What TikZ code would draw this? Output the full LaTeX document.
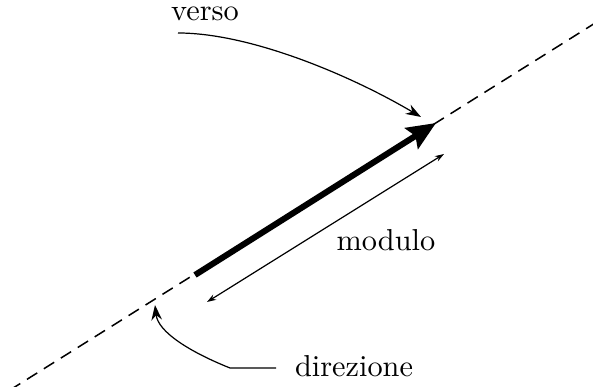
\documentclass[tikz,border=0pt]{standalone}
\usetikzlibrary{arrows.meta}
\begin{document}
\begin{tikzpicture}[x=0.33pt,y=-0.33pt,
  dir/.style={line width=0.5pt,dash pattern=on 4pt off 2.6pt},
  vec/.style={line width=2pt,-{Stealth[length=9.5pt,width=8pt,inset=1.5pt]}},
  thin/.style={line width=0.4pt},
  lbl/.style={inner sep=0pt}]
\useasboundingbox (0,0) rectangle (593,387);
\coordinate (d1) at (10,390);
\coordinate (d2) at (600,20);
\draw[dir] (d1) -- (d2);
\coordinate (vs) at (195,275);
\coordinate (vt) at (436,123);
\draw[vec] (vs) -- (vt);
\coordinate (m1) at (207,302);
\coordinate (m2) at (444,154);
\draw[thin,{Stealth[length=3pt,width=2pt]}-{Stealth[length=3pt,width=2pt]}] (m1) -- (m2);
\node[lbl] (mod) at (386,240) {modulo};
\node[lbl] (ver) at (205,14) {verso};
\node[lbl] (dir) at (354,366) {direzione};
\coordinate (va) at (178,33);
\coordinate (vb) at (421,117);
\draw[thin,-{Stealth[length=5pt,width=3.5pt]}] (va) .. controls (250,33) and (350,75) .. (vb);
\coordinate (da) at (276,368);
\coordinate (db) at (155,305);
\draw[thin,-{Stealth[length=5pt,width=3.5pt]}] (da) -- (230,368) .. controls (190,352) and (158,332) .. (db);
\end{tikzpicture}
\end{document}
